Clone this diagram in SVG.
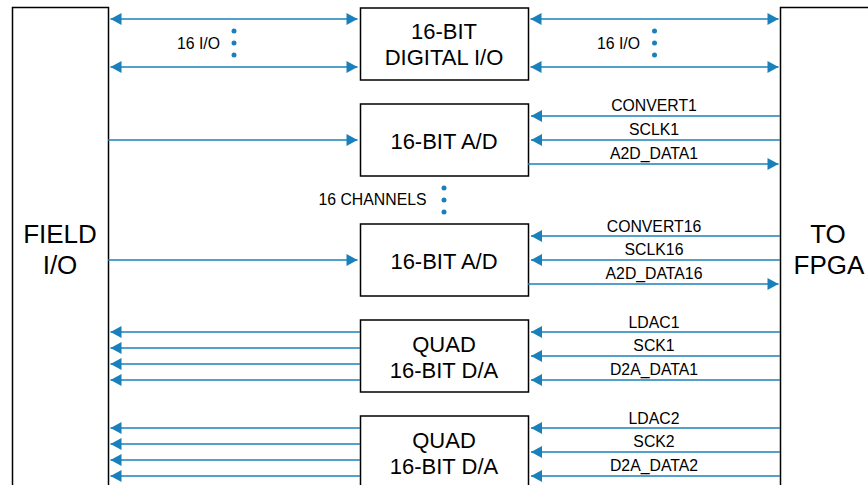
<svg xmlns="http://www.w3.org/2000/svg" width="868" height="485" viewBox="0 0 868 485">
<style>
.box{fill:#fff;stroke:#000;stroke-width:1.5}
.w{stroke:#1a80bb;stroke-width:1.6;fill:none}
.t{font-family:"Liberation Sans",Arial,sans-serif;fill:#000;text-anchor:middle}
.bt{font-size:22px}
.lt{font-size:15.8px}
.big{font-size:26px}
.dot{fill:#1a80bb}
</style>
<defs>
<marker id="ah" markerUnits="userSpaceOnUse" markerWidth="12" markerHeight="12" viewBox="0 0 11 12" refX="11" refY="6" orient="auto-start-reverse">
<path d="M0,0 L11,6 L0,12 z" fill="#1a80bb"/>
</marker>
</defs>
<rect width="868" height="485" fill="#fff"/>
<g id="field-io">
<rect class="box" x="12.5" y="7.5" width="96" height="500"/>
<text class="t big" x="60" y="243">FIELD</text>
<text class="t big" x="60" y="274">I/O</text>
</g>
<g id="to-fpga">
<rect class="box" x="780.5" y="7.5" width="100" height="500"/>
<text class="t big" x="828" y="243">TO</text>
<text class="t big" x="829" y="274">FPGA</text>
</g>
<g id="digital-io">
<rect class="box" x="360.5" y="8" width="168" height="72"/>
<text class="t bt" x="444" y="39">16-BIT</text>
<text class="t bt" x="444" y="65">DIGITAL I/O</text>
</g>
<g id="ad1">
<rect class="box" x="360.5" y="104" width="168" height="72"/>
<text class="t bt" x="444" y="148.5">16-BIT A/D</text>
</g>
<g id="ad16">
<rect class="box" x="360.5" y="224" width="168" height="72"/>
<text class="t bt" x="444" y="268.5">16-BIT A/D</text>
</g>
<g id="da1">
<rect class="box" x="360.5" y="320" width="168" height="72"/>
<text class="t bt" x="444" y="352">QUAD</text>
<text class="t bt" x="444" y="377.5">16-BIT D/A</text>
</g>
<g id="da2">
<rect class="box" x="360.5" y="416" width="168" height="80"/>
<text class="t bt" x="444" y="448">QUAD</text>
<text class="t bt" x="444" y="473.5">16-BIT D/A</text>
</g>
<g id="connectors">
<line class="w" x1="110.5" y1="19" x2="357.5" y2="19" marker-start="url(#ah)" marker-end="url(#ah)"/>
<line class="w" x1="110.5" y1="67" x2="357.5" y2="67" marker-start="url(#ah)" marker-end="url(#ah)"/>
<line class="w" x1="530.5" y1="19" x2="778.5" y2="19" marker-start="url(#ah)" marker-end="url(#ah)"/>
<line class="w" x1="530.5" y1="67" x2="778.5" y2="67" marker-start="url(#ah)" marker-end="url(#ah)"/>
<line class="w" x1="108" y1="140" x2="357.5" y2="140" marker-end="url(#ah)"/>
<line class="w" x1="780" y1="116" x2="531" y2="116" marker-end="url(#ah)"/>
<line class="w" x1="780" y1="140" x2="531" y2="140" marker-end="url(#ah)"/>
<line class="w" x1="528" y1="164" x2="778.5" y2="164" marker-end="url(#ah)"/>
<line class="w" x1="108" y1="260" x2="357.5" y2="260" marker-end="url(#ah)"/>
<line class="w" x1="780" y1="236" x2="531" y2="236" marker-end="url(#ah)"/>
<line class="w" x1="780" y1="260" x2="531" y2="260" marker-end="url(#ah)"/>
<line class="w" x1="528" y1="284" x2="778.5" y2="284" marker-end="url(#ah)"/>
<line class="w" x1="360" y1="332" x2="110.5" y2="332" marker-end="url(#ah)"/>
<line class="w" x1="360" y1="348" x2="110.5" y2="348" marker-end="url(#ah)"/>
<line class="w" x1="360" y1="364" x2="110.5" y2="364" marker-end="url(#ah)"/>
<line class="w" x1="360" y1="380" x2="110.5" y2="380" marker-end="url(#ah)"/>
<line class="w" x1="780" y1="332" x2="531" y2="332" marker-end="url(#ah)"/>
<line class="w" x1="780" y1="356" x2="531" y2="356" marker-end="url(#ah)"/>
<line class="w" x1="780" y1="380" x2="531" y2="380" marker-end="url(#ah)"/>
<line class="w" x1="360" y1="428" x2="110.5" y2="428" marker-end="url(#ah)"/>
<line class="w" x1="360" y1="444" x2="110.5" y2="444" marker-end="url(#ah)"/>
<line class="w" x1="360" y1="460" x2="110.5" y2="460" marker-end="url(#ah)"/>
<line class="w" x1="360" y1="476" x2="110.5" y2="476" marker-end="url(#ah)"/>
<line class="w" x1="780" y1="428" x2="531" y2="428" marker-end="url(#ah)"/>
<line class="w" x1="780" y1="452" x2="531" y2="452" marker-end="url(#ah)"/>
<line class="w" x1="780" y1="476" x2="531" y2="476" marker-end="url(#ah)"/>
</g>
<g id="labels">
<text class="t lt" x="198.5" y="48.5">16 I/O</text>
<circle class="dot" cx="234" cy="31" r="2.5"/>
<circle class="dot" cx="234" cy="43" r="2.5"/>
<circle class="dot" cx="234" cy="55" r="2.5"/>
<text class="t lt" x="618.5" y="48.5">16 I/O</text>
<circle class="dot" cx="654.5" cy="31" r="2.5"/>
<circle class="dot" cx="654.5" cy="43" r="2.5"/>
<circle class="dot" cx="654.5" cy="55" r="2.5"/>
<text class="t lt" x="372.5" y="205">16 CHANNELS</text>
<circle class="dot" cx="444" cy="188" r="2.5"/>
<circle class="dot" cx="444" cy="200" r="2.5"/>
<circle class="dot" cx="444" cy="212" r="2.5"/>
<text class="t lt" x="654" y="111">CONVERT1</text>
<text class="t lt" x="654" y="135">SCLK1</text>
<text class="t lt" x="654" y="159">A2D_DATA1</text>
<text class="t lt" x="654" y="231.5">CONVERT16</text>
<text class="t lt" x="654" y="255">SCLK16</text>
<text class="t lt" x="654" y="279">A2D_DATA16</text>
<text class="t lt" x="654" y="327.5">LDAC1</text>
<text class="t lt" x="654" y="351">SCK1</text>
<text class="t lt" x="654" y="375">D2A_DATA1</text>
<text class="t lt" x="654" y="423.5">LDAC2</text>
<text class="t lt" x="654" y="447">SCK2</text>
<text class="t lt" x="654" y="471">D2A_DATA2</text>
</g>
</svg>
